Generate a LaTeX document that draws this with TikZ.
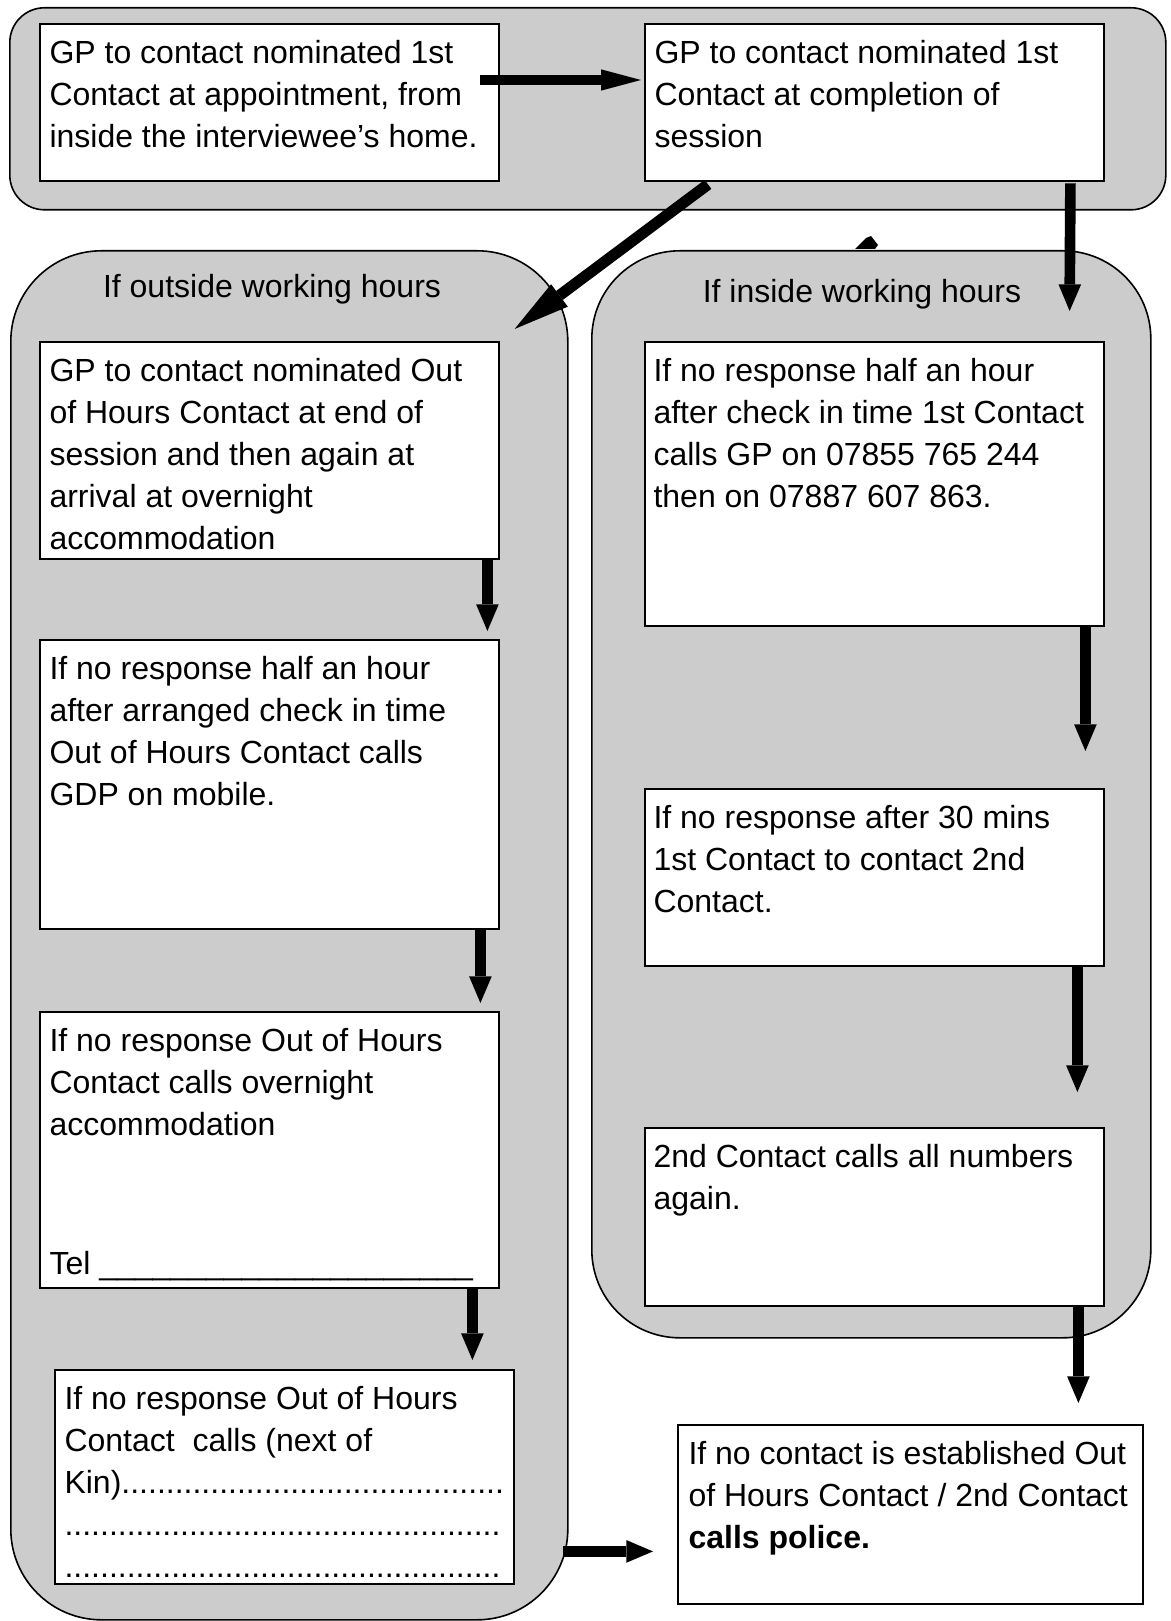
\documentclass[tikz,border=0pt]{standalone}
\usepackage{fontspec}
\setmainfont{Liberation Sans}
\usetikzlibrary{arrows.meta, calc, positioning}

\newcommand{\rep}[2]{\foreach \n in {1,...,#1}{#2}}

\tikzset{
  panel/.style={draw, line width=0.6pt, fill=black!20, rounded corners=#1, anchor=north west, inner sep=0pt},
  box/.style={draw, line width=0.9pt, fill=white, anchor=north west, inner sep=0pt},
  wh/.style 2 args={minimum width=#1*0.375pt, minimum height=#2*0.375pt},
  txt/.style={anchor=north west, inner sep=0pt, align=left, font=\fontsize{12}{15.75}\selectfont},
  title/.style={inner sep=0pt, font=\fontsize{12}{15.75}\selectfont},
  flow/.style={line width=4pt, -{Triangle[length=10pt, width=8.5pt, line width=0pt]}}
}

\begin{document}
\begin{tikzpicture}[x=0.375pt, y=-0.375pt]
\useasboundingbox (0,0) rectangle (1171,1621);

% panels
\node[panel=13pt, wh={1156}{202}] (toppanel) at (9,7) {};
\node[panel=34pt, wh={557}{1369}] (oohpanel) at (10,250) {};
\node[panel=33pt, wh={559}{1087}] (whpanel) at (591,250) {};
\fill (855,249) -- (866,238) -- (871,236) -- (878,245) -- (875,249) -- cycle;

\node[title] (oohtitle) at (272,289) {If outside working hours};
\node[title] (whtitle) at (862,294) {If inside working hours};

% top row
\node[box, wh={459}{157}] (appt) at (39,23) {};
\node[txt] (appttxt) at ($(appt.north west)+(10,17)$) {GP to contact nominated 1st\\Contact at appointment, from\\inside the interviewee’s home.};
\node[box, wh={459}{157}] (session) at (644,23) {};
\node[txt] (sessiontxt) at ($(session.north west)+(10,17)$) {GP to contact nominated 1st\\Contact at completion of\\session};

% outside working hours
\node[box, wh={459}{217}] (ooh1) at (39,341) {};
\node[txt] (ooh1txt) at ($(ooh1.north west)+(10,17)$) {GP to contact nominated Out\\of Hours Contact at end of\\session and then again at\\arrival at overnight\\accommodation};
\node[box, wh={459}{289}] (ooh2) at (39,639) {};
\node[txt] (ooh2txt) at ($(ooh2.north west)+(10,17)$) {If no response half an hour\\after arranged check in time\\Out of Hours Contact calls\\GDP on mobile.};
\node[box, wh={459}{276}] (ooh3) at (39,1011) {};
\node[txt] (ooh3txt) at ($(ooh3.north west)+(10,17)$) {If no response Out of Hours\\Contact calls overnight\\accommodation};
\node[txt, anchor=base west] (ooh3tel) at ($(ooh3.south west)+(10,-15)$) {Tel \rep{21}{\_}};
\node[box, wh={459}{214}] (ooh4) at (54,1369) {};
\node[txt] (ooh4txt) at ($(ooh4.north west)+(10,17)$) {If no response Out of Hours\\Contact\ \ calls (next of\\Kin)\rep{43}{.}\\\rep{49}{.}\\\rep{49}{.}};

% inside working hours
\node[box, wh={459}{284}] (wh1) at (644,341) {};
\node[txt] (wh1txt) at ($(wh1.north west)+(9,17)$) {If no response half an hour\\after check in time 1st Contact\\calls GP on 07855 765 244\\then on 07887 607 863.};
\node[box, wh={459}{177}] (wh2) at (644,788) {};
\node[txt] (wh2txt) at ($(wh2.north west)+(9,17)$) {If no response after 30 mins\\1st Contact to contact 2nd\\Contact.};
\node[box, wh={459}{178}] (wh3) at (644,1127) {};
\node[txt] (wh3txt) at ($(wh3.north west)+(9,17)$) {2nd Contact calls all numbers\\again.};

\node[box, wh={465}{179}] (police) at (677,1424) {};
\node[txt] (policetxt) at ($(police.north west)+(11,17)$) {If no contact is established Out\\of Hours Contact / 2nd Contact\\\textbf{calls police.}};

% arrows
\draw[flow, line width=3.4pt, -{Triangle[length=15pt, width=8pt, line width=0pt]}]
  ($(appt.north east)+(-20,57)$) -- ($(session.north west)+(-3,57)$);
\draw[flow, line width=4.2pt, -{Triangle[length=21pt, width=10.5pt, line width=0pt]}]
  ($(session.south west)+(64,2)$) -- ($(oohpanel.north east)+(-54,79)$);
\draw[flow] ($(session.south east)+(-35,1)$) -- ($(whpanel.north east)+(-82,61)$);

\draw[flow] ($(ooh1.south east)+(-13,0)$) -- ($(ooh2.north east)+(-13,-8)$);
\draw[flow] ($(ooh2.south east)+(-20,0)$) -- ($(ooh3.north east)+(-20,-8)$);
\draw[flow] ($(ooh3.south east)+(-28,0)$) -- ($(ooh4.north east)+(-43,-9)$);
\draw[flow] ($(ooh4.south east)+(48,-34)$) coordinate (kin) -- ($(police.west |- kin)+(-24,0)$);

\draw[flow] ($(wh1.south east)+(-20,0)$) -- ($(wh2.north east)+(-20,-37)$);
\draw[flow] ($(wh2.south east)+(-28,0)$) -- ($(wh3.north east)+(-28,-35)$);
\draw[flow] ($(wh3.south east)+(-27,0)$) -- ($(police.north east)+(-66,-21)$);
\end{tikzpicture}
\end{document}
